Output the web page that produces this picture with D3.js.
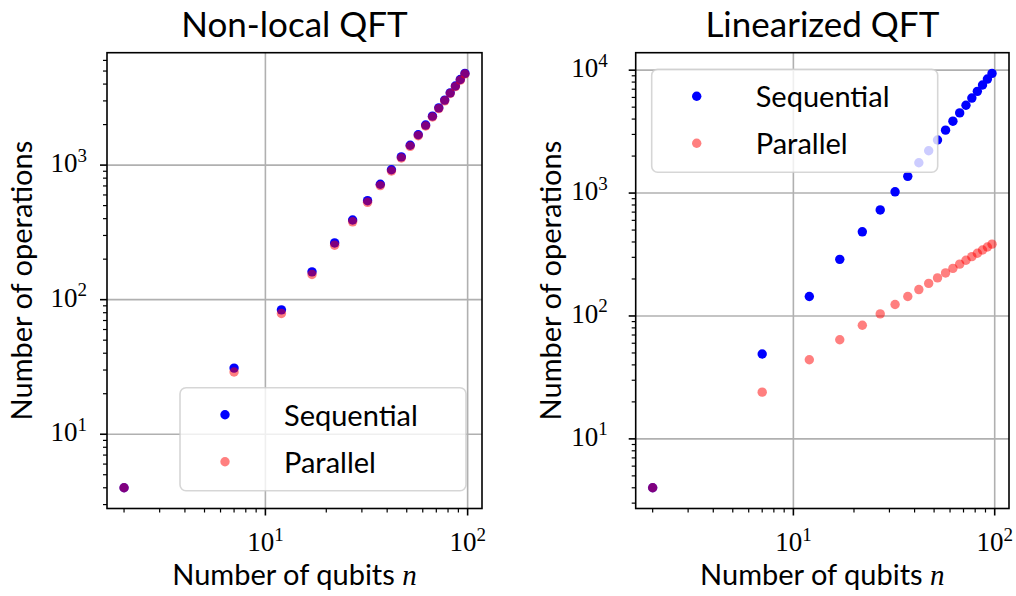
<!DOCTYPE html>
<html>
<head>
<meta charset="utf-8">
<script src="https://cdn.jsdelivr.net/npm/d3@7"></script>
<style>
  body { margin: 0; background: #fff; }
  text { fill: #000; }
</style>
</head>
<body>
<svg id="chart" width="1016" height="596"></svg>
<script>
// Qubit counts sampled for both circuits
const nQubits = [2, 7, 12, 17, 22, 27, 32, 37, 42, 47, 52, 57, 62, 67, 72, 77, 82, 87, 92, 97];

// Non-local QFT gate counts
const nonlocalSequential = [4, 31, 84, 161, 264, 391, 544, 721, 924, 1151, 1404, 1681, 1984, 2311, 2664, 3041, 3444, 3871, 4324, 4801];
const nonlocalParallel   = [4, 29, 79, 154, 254, 379, 529, 704, 904, 1129, 1379, 1654, 1954, 2279, 2629, 3004, 3404, 3829, 4279, 4754];

// Linearized (nearest-neighbour) QFT gate counts
const linearSequential = [4, 49, 144, 289, 484, 729, 1024, 1369, 1764, 2209, 2704, 3249, 3844, 4489, 5184, 5929, 6724, 7569, 8464, 9409];
const linearParallel   = [4, 24, 44, 64, 84, 104, 124, 144, 164, 184, 204, 224, 244, 264, 284, 304, 324, 344, 364, 384];

const panelTitles = ["Non-local QFT", "Linearized QFT"];
const seriesNames = ["Sequential", "Parallel"];
const xAxisTitle = "Number of qubits";
const yAxisTitle = "Number of operations";

const W = 1016, H = 596;
const plotTop = 52.7, plotBottom = 508.5;
const SANS = "Lato, 'Open Sans', sans-serif";
const SERIF = "'Liberation Serif', 'DejaVu Serif', serif";

const svg = d3.select("#chart");
svg.append("rect").attr("width", W).attr("height", H).attr("fill", "#fff");

const panels = [
  { title: panelTitles[0], seq: nonlocalSequential, par: nonlocalParallel,
    left: 107, right: 482, legend: { x: 180, y: 387.7 }, labelGap: 20, ylabelX: 32 },
  { title: panelTitles[1], seq: linearSequential, par: linearParallel,
    left: 635.7, right: 1009, legend: { x: 651.7, y: 69.3 }, labelGap: 28, ylabelX: 561 }
];

// 5% padding in log space, like an autoscaled log axis
function logDomain(vals) {
  const lo = Math.log10(d3.min(vals)), hi = Math.log10(d3.max(vals));
  const p = (hi - lo) * 0.05;
  return [Math.pow(10, lo - p), Math.pow(10, hi + p)];
}
function majorTicks(dom) {
  const out = [];
  for (let e = Math.ceil(Math.log10(dom[0])); e <= Math.floor(Math.log10(dom[1])); e++) out.push(e);
  return out;
}
function minorTicks(dom) {
  const out = [];
  for (let e = Math.floor(Math.log10(dom[0])); e <= Math.floor(Math.log10(dom[1])); e++) {
    for (let k = 2; k <= 9; k++) {
      const v = k * Math.pow(10, e);
      if (v >= dom[0] && v <= dom[1]) out.push(v);
    }
  }
  return out;
}
function powerLabel(sel, exp) {
  sel.append("tspan").text("10");
  sel.append("tspan").attr("dy", -10.5).attr("font-size", 19).text(exp);
}

panels.forEach(p => {
  const g = svg.append("g");
  const x = d3.scaleLog().domain(logDomain(nQubits)).range([p.left, p.right]);
  const y = d3.scaleLog().domain(logDomain(p.seq.concat(p.par))).range([plotBottom, plotTop]);
  const xMaj = majorTicks(x.domain()), yMaj = majorTicks(y.domain());
  const cx = (p.left + p.right) / 2, cy = (plotTop + plotBottom) / 2;

  // grid
  const grid = g.append("g").attr("stroke", "#b0b0b0").attr("stroke-width", 1.6);
  grid.selectAll(".gx").data(xMaj).join("line")
    .attr("x1", e => x(Math.pow(10, e))).attr("x2", e => x(Math.pow(10, e)))
    .attr("y1", plotTop).attr("y2", plotBottom);
  grid.selectAll(".gy").data(yMaj).join("line")
    .attr("y1", e => y(Math.pow(10, e))).attr("y2", e => y(Math.pow(10, e)))
    .attr("x1", p.left).attr("x2", p.right);

  // markers: sequential first, parallel translucent on top
  g.append("g").selectAll("circle").data(nQubits).join("circle")
    .attr("cx", (n) => x(n)).attr("cy", (n, i) => y(p.seq[i]))
    .attr("r", 4.7).attr("fill", "blue");
  g.append("g").selectAll("circle").data(nQubits).join("circle")
    .attr("cx", (n) => x(n)).attr("cy", (n, i) => y(p.par[i]))
    .attr("r", 4.7).attr("fill", "red").attr("fill-opacity", 0.5);

  // ticks
  const ticks = g.append("g").attr("stroke", "#000");
  ticks.selectAll(".xM").data(xMaj).join("line")
    .attr("x1", e => x(Math.pow(10, e))).attr("x2", e => x(Math.pow(10, e)))
    .attr("y1", plotBottom).attr("y2", plotBottom + 7).attr("stroke-width", 1.6);
  ticks.selectAll(".xm").data(minorTicks(x.domain())).join("line")
    .attr("x1", v => x(v)).attr("x2", v => x(v))
    .attr("y1", plotBottom).attr("y2", plotBottom + 4).attr("stroke-width", 1.2);
  ticks.selectAll(".yM").data(yMaj).join("line")
    .attr("y1", e => y(Math.pow(10, e))).attr("y2", e => y(Math.pow(10, e)))
    .attr("x1", p.left).attr("x2", p.left - 7).attr("stroke-width", 1.6);
  ticks.selectAll(".ym").data(minorTicks(y.domain())).join("line")
    .attr("y1", v => y(v)).attr("y2", v => y(v))
    .attr("x1", p.left).attr("x2", p.left - 4).attr("stroke-width", 1.2);

  // frame
  g.append("rect").attr("x", p.left).attr("y", plotTop)
    .attr("width", p.right - p.left).attr("height", plotBottom - plotTop)
    .attr("fill", "none").attr("stroke", "#000").attr("stroke-width", 1.6);

  // tick labels
  g.selectAll(".xl").data(xMaj).join("text")
    .attr("x", e => x(Math.pow(10, e))).attr("y", plotBottom + 42.5)
    .attr("text-anchor", "middle").attr("font-family", SERIF).attr("font-size", 27)
    .each(function (e) { powerLabel(d3.select(this), e); });
  g.selectAll(".yl").data(yMaj).join("text")
    .attr("x", p.left - p.labelGap).attr("y", e => y(Math.pow(10, e)) + 7)
    .attr("text-anchor", "end").attr("font-family", SERIF).attr("font-size", 27)
    .each(function (e) { powerLabel(d3.select(this), e); });

  // titles
  g.append("text").attr("x", cx).attr("y", 36.5).attr("text-anchor", "middle")
    .attr("font-family", SANS).attr("font-size", 35).text(p.title);
  const xt = g.append("text").attr("x", cx).attr("y", 585).attr("text-anchor", "middle")
    .attr("font-family", SANS).attr("font-size", 29);
  xt.append("tspan").text(xAxisTitle + " ");
  xt.append("tspan").attr("font-family", SERIF).attr("font-style", "italic").text("n");
  g.append("text").attr("transform", `translate(${p.ylabelX},${cy}) rotate(-90)`)
    .attr("text-anchor", "middle").attr("font-family", SANS).attr("font-size", 29)
    .text(yAxisTitle);

  // legend
  const lg = g.append("g").attr("transform", `translate(${p.legend.x},${p.legend.y})`);
  lg.append("rect").attr("width", 286).attr("height", 103).attr("rx", 6)
    .attr("fill", "#fff").attr("fill-opacity", 0.8)
    .attr("stroke", "#ccc").attr("stroke-opacity", 0.8).attr("stroke-width", 1.6);
  const entries = [{ name: seriesNames[0], fill: "blue", op: 1 }, { name: seriesNames[1], fill: "red", op: 0.5 }];
  entries.forEach((d, i) => {
    const ry = 27 + i * 47;
    lg.append("circle").attr("cx", 45).attr("cy", ry).attr("r", 4.7)
      .attr("fill", d.fill).attr("fill-opacity", d.op);
    lg.append("text").attr("x", 104).attr("y", ry + 11)
      .attr("font-family", SANS).attr("font-size", 29).text(d.name);
  });
});
</script>
</body>
</html>
